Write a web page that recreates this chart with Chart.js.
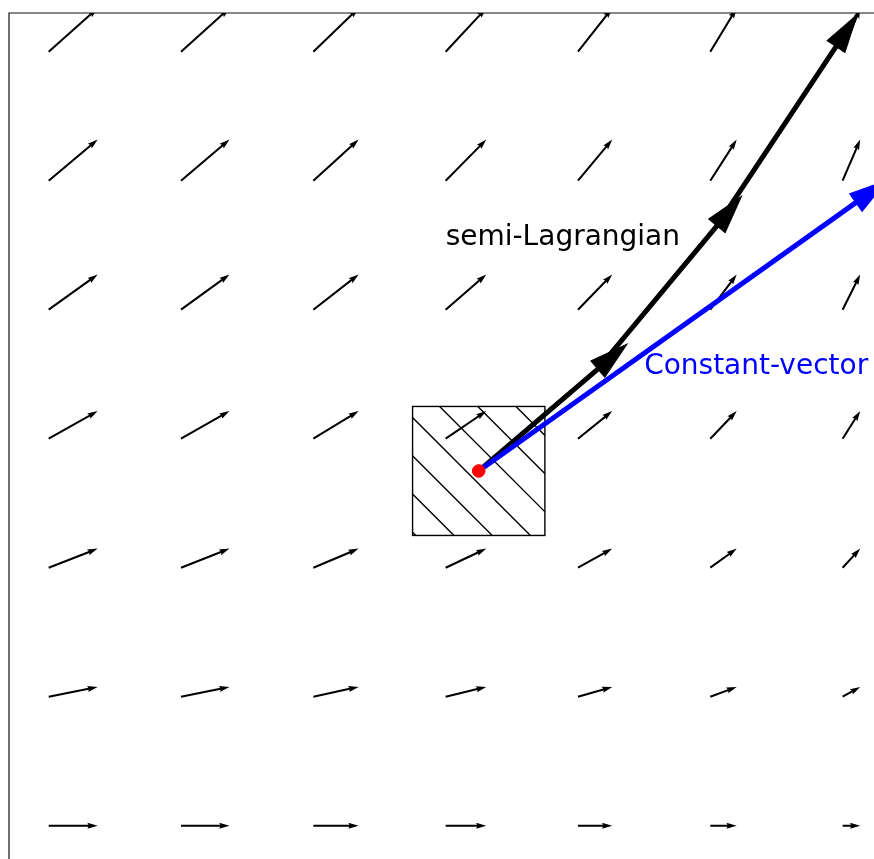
<!DOCTYPE html>
<html>
<head>
<meta charset="utf-8">
<script src="https://cdn.jsdelivr.net/npm/chart.js@4.4.1/dist/chart.umd.min.js"></script>
<style>
  html, body { margin: 0; padding: 0; overflow: hidden; background: #ffffff; }
  canvas { display: block; }
</style>
</head>
<body>
<canvas id="flow" width="900" height="880"></canvas>
<script>
// Sample points of the velocity field
const gridX = [0, 1, 2, 3, 4, 5, 6];
const gridY = [0, 1, 2, 3, 4, 5, 6];
// Horizontal velocity for each column, vertical velocity for each row
const uByColumn = [1.00, 0.99, 0.925, 0.83, 0.70, 0.54, 0.36];
const vByRow = [0.00, 0.20, 0.39, 0.565, 0.72, 0.84, 0.89];

// Departure point and the cell that surrounds it
const departureX = [3.25];
const departureY = [2.75];
const cellX = [2.75, 3.75];
const cellY = [2.25, 3.25];

// Trajectory traced step by step through the field (shaft ends of each step)
const pathX = [3.25, 4.15, 5.05, 5.95];
const pathY = [2.75, 3.54, 4.65, 6.04];

// Single straight step using the velocity at the departure point
const constantX = [3.25, 6.10];
const constantY = [2.75, 4.83];

// Annotations
const labelText = ['semi-Lagrangian', 'Constant-vector'];
const labelX = [3.0, 4.5];
const labelY = [4.5, 3.5];
const labelColor = ['#000000', '#0000ff'];

const axisMin = -0.3;
const axisMax = 6.3;

// quiver arrow: length in x-axis units per unit of speed
const QUIVER_SCALE = 0.37;
const QUIVER_WIDTH = 2.05;

function quiverArrow(ctx, x0, y0, dx, dy, w) {
  const L = Math.hypot(dx, dy);
  if (L === 0) return;
  const hl = 5 * w, hw = 3 * w, hal = 4.5 * w;
  ctx.save();
  ctx.translate(x0, y0);
  ctx.rotate(Math.atan2(dy, dx));
  ctx.beginPath();
  ctx.moveTo(0, -w / 2);
  ctx.lineTo(L - hal, -w / 2);
  ctx.lineTo(L - hl, -hw / 2);
  ctx.lineTo(L, 0);
  ctx.lineTo(L - hl, hw / 2);
  ctx.lineTo(L - hal, w / 2);
  ctx.lineTo(0, w / 2);
  ctx.closePath();
  ctx.fill();
  ctx.restore();
}

function fancyArrow(ctx, x0, y0, x1, y1, shaftW, headW, headL, color) {
  const L = Math.hypot(x1 - x0, y1 - y0);
  ctx.save();
  ctx.translate(x0, y0);
  ctx.rotate(Math.atan2(y1 - y0, x1 - x0));
  ctx.beginPath();
  ctx.moveTo(0, -shaftW / 2);
  ctx.lineTo(L, -shaftW / 2);
  ctx.lineTo(L, -headW / 2);
  ctx.lineTo(L + headL, 0);
  ctx.lineTo(L, headW / 2);
  ctx.lineTo(L, shaftW / 2);
  ctx.lineTo(0, shaftW / 2);
  ctx.closePath();
  ctx.fillStyle = color;
  ctx.strokeStyle = color;
  ctx.lineWidth = 1;
  ctx.lineJoin = 'miter';
  ctx.fill();
  ctx.stroke();
  ctx.restore();
}

const flowPlugin = {
  id: 'flowField',
  beforeDatasetsDraw(chart) {
    const ctx = chart.ctx;
    const xs = chart.scales.x, ys = chart.scales.y;
    const area = chart.chartArea;
    const unitPx = xs.getPixelForValue(1) - xs.getPixelForValue(0);

    ctx.save();
    ctx.beginPath();
    ctx.rect(area.left, area.top, area.right - area.left, area.bottom - area.top);
    ctx.clip();

    // velocity arrows
    ctx.fillStyle = '#000000';
    gridY.forEach((gy, j) => {
      gridX.forEach((gx, i) => {
        const u = uByColumn[i], v = vByRow[j];
        const px = xs.getPixelForValue(gx), py = ys.getPixelForValue(gy);
        quiverArrow(ctx, px, py, u * QUIVER_SCALE * unitPx, -v * QUIVER_SCALE * unitPx, QUIVER_WIDTH);
      });
    });

    // hatched cell
    const cl = xs.getPixelForValue(cellX[0]), cr = xs.getPixelForValue(cellX[1]);
    const ct = ys.getPixelForValue(cellY[1]), cb = ys.getPixelForValue(cellY[0]);
    ctx.save();
    ctx.beginPath();
    ctx.rect(cl, ct, cr - cl, cb - ct);
    ctx.clip();
    ctx.strokeStyle = '#000000';
    ctx.lineWidth = 1.4;
    const spacing = 38.2, phase = 11.2;
    const size = Math.max(cr - cl, cb - ct);
    for (let c = phase - 3 * spacing; c < size * 2; c += spacing) {
      ctx.beginPath();
      ctx.moveTo(cl - 10, ct + c - 10);
      ctx.lineTo(cl + size + 40, ct + c + size + 40);
      ctx.stroke();
    }
    ctx.restore();
    ctx.strokeStyle = '#000000';
    ctx.lineWidth = 1.4;
    ctx.strokeRect(cl, ct, cr - cl, cb - ct);

    // trajectory steps
    const shaftW = 4, headW = 21.5, headL = 0.29 * unitPx;
    for (let k = 0; k < pathX.length - 1; k++) {
      fancyArrow(ctx,
        xs.getPixelForValue(pathX[k]), ys.getPixelForValue(pathY[k]),
        xs.getPixelForValue(pathX[k + 1]), ys.getPixelForValue(pathY[k + 1]),
        shaftW, headW, headL, '#000000');
    }
    // straight step
    fancyArrow(ctx,
      xs.getPixelForValue(constantX[0]), ys.getPixelForValue(constantY[0]),
      xs.getPixelForValue(constantX[1]), ys.getPixelForValue(constantY[1]),
      shaftW, headW, headL, '#0000ff');

    // labels
    ctx.font = '28px "DejaVu Sans"';
    ctx.textAlign = 'left';
    ctx.textBaseline = 'alphabetic';
    labelText.forEach((t, i) => {
      ctx.fillStyle = labelColor[i];
      ctx.fillText(t, xs.getPixelForValue(labelX[i]), ys.getPixelForValue(labelY[i]));
    });
    ctx.restore();

    // axes frame
    ctx.save();
    ctx.strokeStyle = '#111111';
    ctx.lineWidth = 1.2;
    ctx.beginPath();
    ctx.moveTo(area.left, area.bottom);
    ctx.lineTo(area.left, area.top);
    ctx.lineTo(area.right, area.top);
    ctx.lineTo(area.right, area.bottom);
    ctx.lineTo(area.left, area.bottom);
    ctx.stroke();
    ctx.restore();
  }
};

new Chart(document.getElementById('flow'), {
  type: 'scatter',
  data: {
    datasets: [{
      label: 'departure point',
      data: departureX.map((x, i) => ({ x: x, y: departureY[i] })),
      pointRadius: 6.3,
      pointHoverRadius: 6.3,
      backgroundColor: '#ff0000',
      borderColor: '#ff0000',
      borderWidth: 1
    }]
  },
  options: {
    responsive: false,
    animation: false,
    devicePixelRatio: 1,
    events: [],
    layout: { padding: { left: 9, top: 13, right: 17.7, bottom: 15.6 } },
    plugins: { legend: { display: false }, tooltip: { enabled: false } },
    scales: {
      x: { type: 'linear', min: axisMin, max: axisMax, display: false },
      y: { type: 'linear', min: axisMin, max: axisMax, display: false }
    }
  },
  plugins: [flowPlugin]
});
</script>
</body>
</html>
